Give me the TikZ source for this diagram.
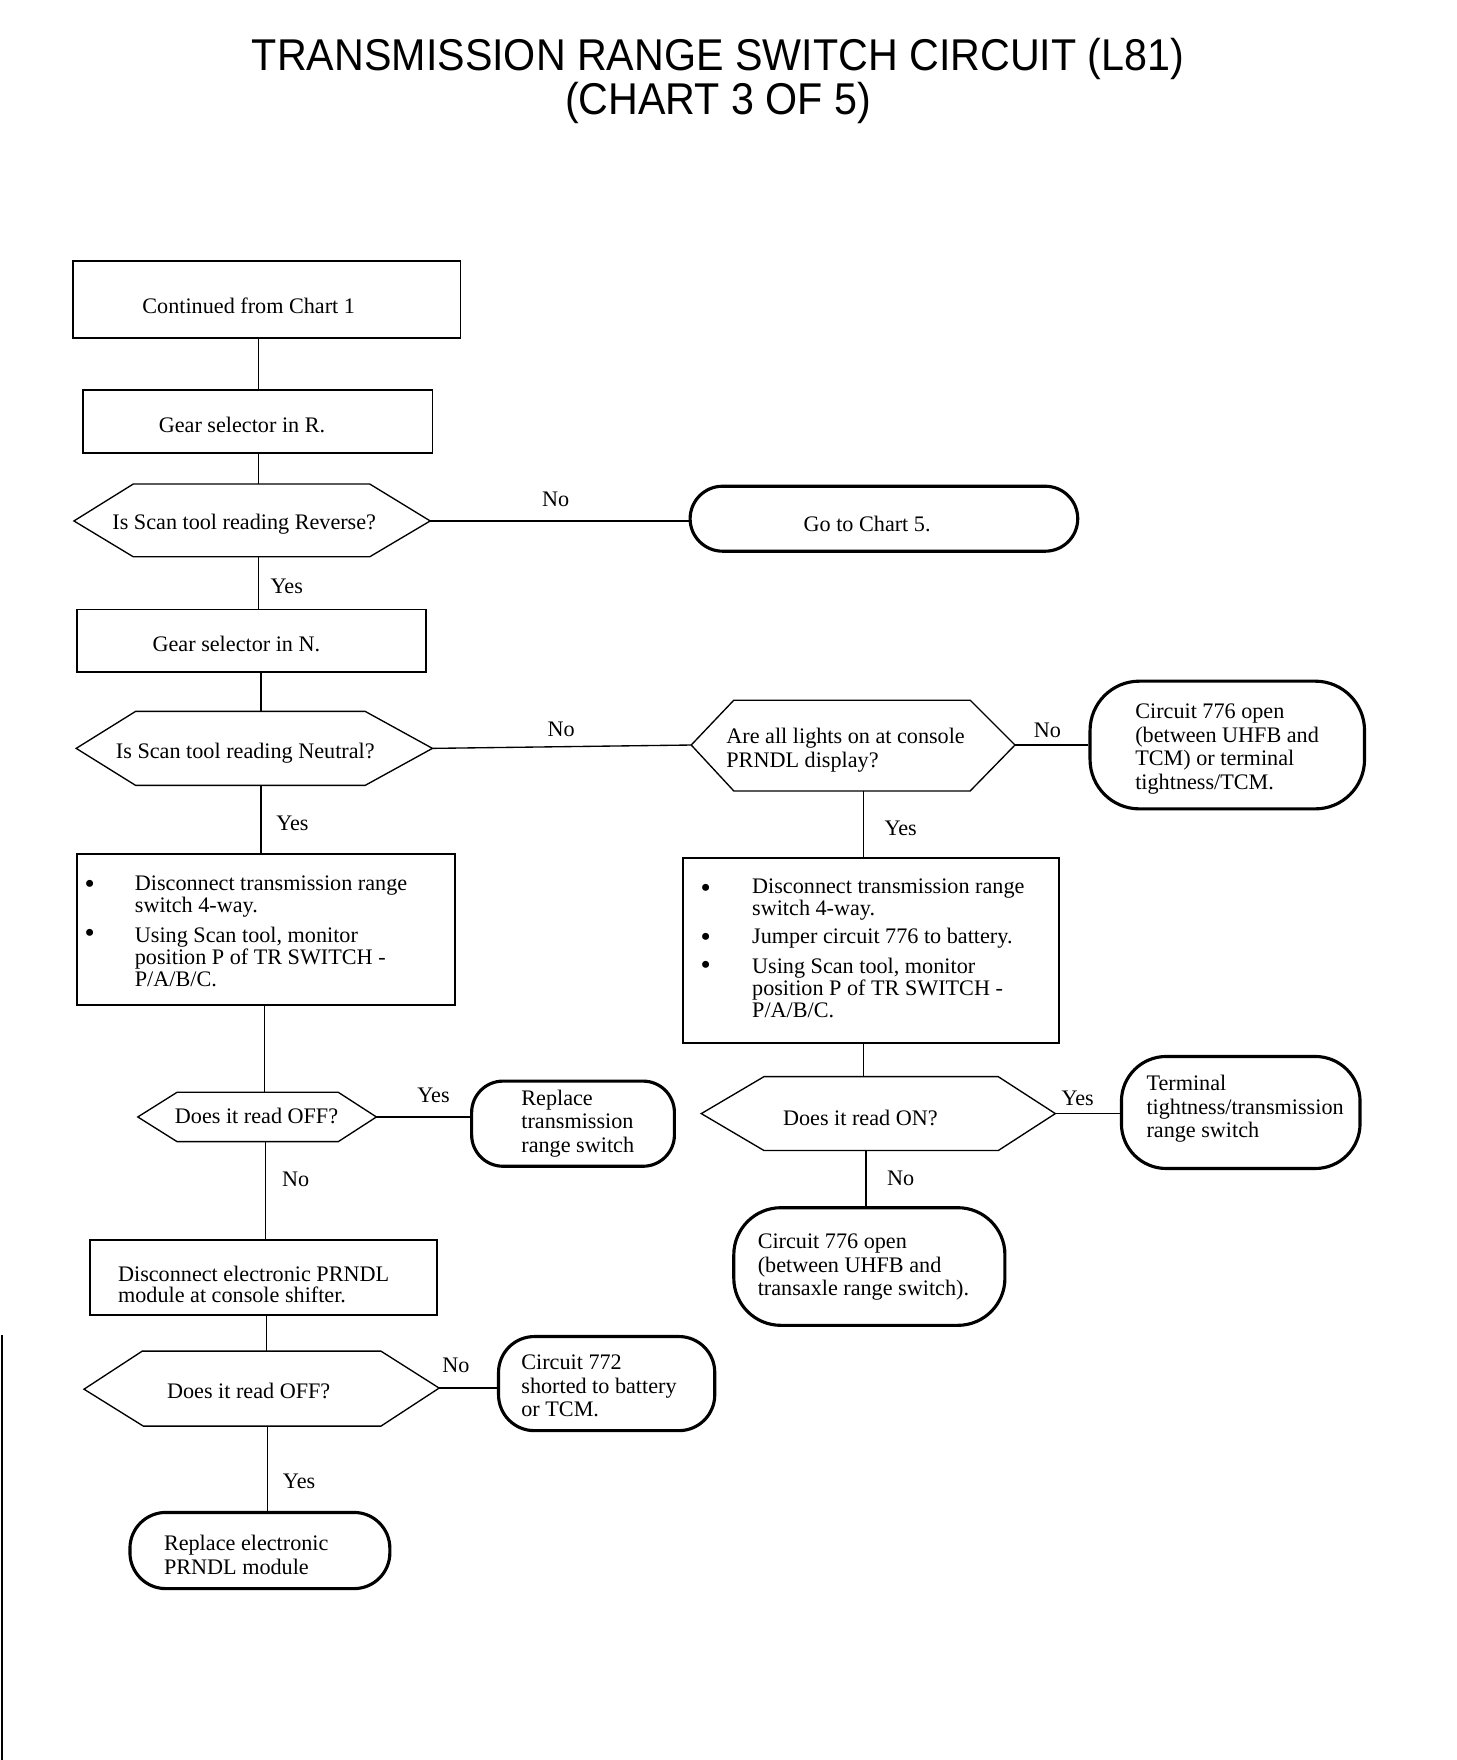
\documentclass[tikz,border=0pt]{standalone}
\usepackage{fontspec}
\setmainfont{Liberation Serif}
\newfontfamily\titlefont{Liberation Sans}
\usetikzlibrary{calc}
\begin{document}
\begin{tikzpicture}[x=0.5pt,y=-0.5pt,
  txt/.style={inner sep=0pt, font=\fontsize{9.9pt}{9.8pt}\selectfont, align=left, anchor=west},
  otxt/.style={inner sep=0pt, font=\fontsize{9.9pt}{10.5pt}\selectfont, align=left, anchor=west},
  ctxt/.style={inner sep=0pt, font=\fontsize{9.9pt}{10.5pt}\selectfont},
  lab/.style={inner sep=0pt, font=\fontsize{9.9pt}{10.5pt}\selectfont},
  bul/.style={inner sep=0pt, font=\fontsize{13pt}{13pt}\selectfont},
  box/.style={draw, line width=0.8pt, inner sep=0pt, rectangle},
  term/.style={draw, line width=1.4pt, inner sep=0pt, rectangle},
  hexline/.style={draw, line width=0.6pt, line join=miter},
  conn/.style={line width=0.6pt},
  ttl/.style={inner sep=0pt, font=\titlefont\fontsize{18.4pt}{20pt}\selectfont}]
\fill[white] (0,0) rectangle (1300,1571);
\useasboundingbox (0,0) rectangle (1300,1571);

% Title
\node[ttl] (title1) at (641,53) {\scalebox{1}[1.08]{TRANSMISSION RANGE SWITCH CIRCUIT (L81)}};
\node[ttl] (title2) at (641,92) {\scalebox{1}[1.08]{(CHART 3 OF 5)}};

% Rectangular boxes
\node[box, minimum width=173pt, minimum height=34.5pt] (b1) at (238,267.5) {};
\node[box, minimum width=156pt, minimum height=28pt] (b2) at (230,376) {};
\node[box, minimum width=155.5pt, minimum height=28pt] (b3) at (224.5,572) {};
\node[box, minimum width=168.5pt, minimum height=67.5pt] (b4) at (237.5,829.5) {};
\node[box, minimum width=167.5pt, minimum height=82.5pt] (b5) at (777.5,848.5) {};
\node[box, minimum width=155pt, minimum height=33.5pt] (b6) at (235,1140.5) {};

% Terminal (rounded) boxes
\node[term, minimum width=173pt, minimum height=29pt, rounded corners=14.5pt] (t1) at (789,463) {};
\node[term, minimum width=122.5pt, minimum height=57pt, rounded corners=22pt] (t2) at (1095.5,665) {};
\node[term, minimum width=90.5pt, minimum height=38pt, rounded corners=14pt] (t3) at (511.5,1003) {};
\node[term, minimum width=106.5pt, minimum height=50pt, rounded corners=20pt] (t4) at (1107.5,993) {};
\node[term, minimum width=121pt, minimum height=52.5pt, rounded corners=21pt] (t5) at (776,1130.5) {};
\node[term, minimum width=96.5pt, minimum height=42pt, rounded corners=16pt] (t6) at (541.5,1235) {};
\node[term, minimum width=116pt, minimum height=34pt, rounded corners=16pt] (t7) at (232,1384) {};

% Hexagons (decisions)
\draw[hexline] (66,465) coordinate (h1l) -- (119,432) -- (330,432) -- (384,465) coordinate (h1r) -- (330,497) -- (119,497) -- cycle;
\coordinate (h1t) at (231,432); \coordinate (h1b) at (231,497);
\draw[hexline] (68,668) coordinate (h2l) -- (121,635) -- (326,635) -- (386,668) coordinate (h2r) -- (326,701) -- (121,701) -- cycle;
\coordinate (h2t) at (233,635); \coordinate (h2b) at (233,701);
\draw[hexline] (617,665) coordinate (h3l) -- (655,625) -- (866,625) -- (906,665) coordinate (h3r) -- (866,706) -- (655,706) -- cycle;
\coordinate (h3b) at (771,706);
\draw[hexline] (123,997) coordinate (h4l) -- (158,975) -- (302,975) -- (336,997) coordinate (h4r) -- (302,1019) -- (158,1019) -- cycle;
\coordinate (h4t) at (236,975); \coordinate (h4b) at (237,1019);
\draw[hexline] (626,994) coordinate (h5l) -- (682,961) -- (891,961) -- (942,994) coordinate (h5r) -- (891,1027) -- (682,1027) -- cycle;
\coordinate (h5t) at (771,961); \coordinate (h5b) at (773,1027);
\draw[hexline] (75,1240) coordinate (h6l) -- (127,1206) -- (340,1206) -- (392,1239) coordinate (h6r) -- (340,1273) -- (128,1273) -- cycle;
\coordinate (h6t) at (238,1206); \coordinate (h6b) at (239,1273);

% Connectors
\draw[conn] (b1.south -| h1t) -- (b2.north -| h1t);
\draw[conn] (b2.south -| h1t) -- (h1t);
\draw[conn] (h1r) -- (h1r -| t1.west);
\draw[conn] (h1b) -- (b3.north -| h1b);
\draw[conn] (b3.south -| h2t) -- (h2t);
\draw[conn] (h2r) -- (h3l);
\draw[conn] (h3r) -- (h3r -| t2.west);
\draw[conn] (h3b) -- (b5.north -| h3b);
\draw[conn] (b5.south -| h5t) -- (h5t);
\draw[conn] (h5r) -- (h5r -| t4.west);
\draw[conn] (h5b) -- (t5.north -| h5b);
\draw[conn] (h2b) -- (b4.north -| h2b);
\draw[conn] (b4.south -| h4t) -- (h4t);
\draw[conn] (h4r) -- (h4r -| t3.west);
\draw[conn] (h4b) -- (b6.north -| h4b);
\draw[conn] (b6.south -| h6t) -- (h6t);
\draw[conn] (h6r) -- (h6r -| t6.west);
\draw[conn] (h6b) -- (t7.north -| h6b);

% Connector labels
\node[lab] (l1) at (496,446) {No};
\node[lab] (l2) at (256,523) {Yes};
\node[lab] (l3) at (501,651) {No};
\node[lab] (l4) at (935,652) {No};
\node[lab] (l5) at (804,739) {Yes};
\node[lab] (l6) at (261,735) {Yes};
\node[lab] (l7) at (387,978) {Yes};
\node[lab] (l8) at (962,980) {Yes};
\node[lab] (l9) at (264,1053) {No};
\node[lab] (l10) at (804,1052) {No};
\node[lab] (l11) at (407,1219) {No};
\node[lab] (l12) at (267,1322) {Yes};

% Texts
\node[ctxt] (x1) at (222,273) {Continued from Chart 1};
\node[ctxt] (x2) at (216,379) {Gear selector in R.};
\node[ctxt] (x3) at (218,468) {Is Scan tool reading Reverse?};
\node[ctxt] (x4) at (774,468) {Go to Chart 5.};
\node[ctxt] (x5) at (211,575) {Gear selector in N.};
\node[ctxt] (x6) at (219,672) {Is Scan tool reading Neutral?};
\node[otxt] (x7) at (648,669.5) {Are all lights on at console\\PRNDL display?};
\node[otxt] (x8) at (1013,668.5) {Circuit 776 open\\(between UHFB and\\TCM) or terminal\\tightness/TCM.};

\node[bul] (x9b) at (630,795) {•};
\node[txt] (x9) at (671,803) {Disconnect transmission range\\switch 4-way.};
\node[bul] (x10b) at (630,839) {•};
\node[txt] (x10) at (671,837) {Jumper circuit 776 to battery.};
\node[bul] (x11b) at (630,864) {•};
\node[txt] (x11) at (671,881.5) {Using Scan tool, monitor\\position P of TR SWITCH -\\P/A/B/C.};

\node[ctxt] (x12) at (768,998) {Does it read ON?};
\node[otxt] (x13) at (1023,990) {Terminal\\tightness/transmission\\range switch};
\node[otxt] (x14) at (676,1131) {Circuit 776 open\\(between UHFB and\\transaxle range switch).};

\node[bul] (x15b) at (80,792) {•};
\node[txt] (x15) at (120,800.5) {Disconnect transmission range\\switch 4-way.};
\node[bul] (x16b) at (80,835) {•};
\node[txt] (x16) at (120,854) {Using Scan tool, monitor\\position P of TR SWITCH -\\P/A/B/C.};

\node[ctxt] (x17) at (229,996) {Does it read OFF?};
\node[otxt] (x18) at (465,1003) {Replace\\transmission\\range switch};
\node[txt] (x19) at (105,1146.5) {Disconnect electronic PRNDL\\module at console shifter.};
\node[ctxt] (x20) at (222,1242) {Does it read OFF?};
\node[otxt] (x21) at (465,1237) {Circuit 772\\shorted to battery\\or TCM.};
\node[otxt] (x22) at (146,1388) {Replace electronic\\PRNDL module};

% scan edge line at far left
\draw[line width=1pt] (1.5,1192) -- (1.5,1571);
\end{tikzpicture}
\end{document}
